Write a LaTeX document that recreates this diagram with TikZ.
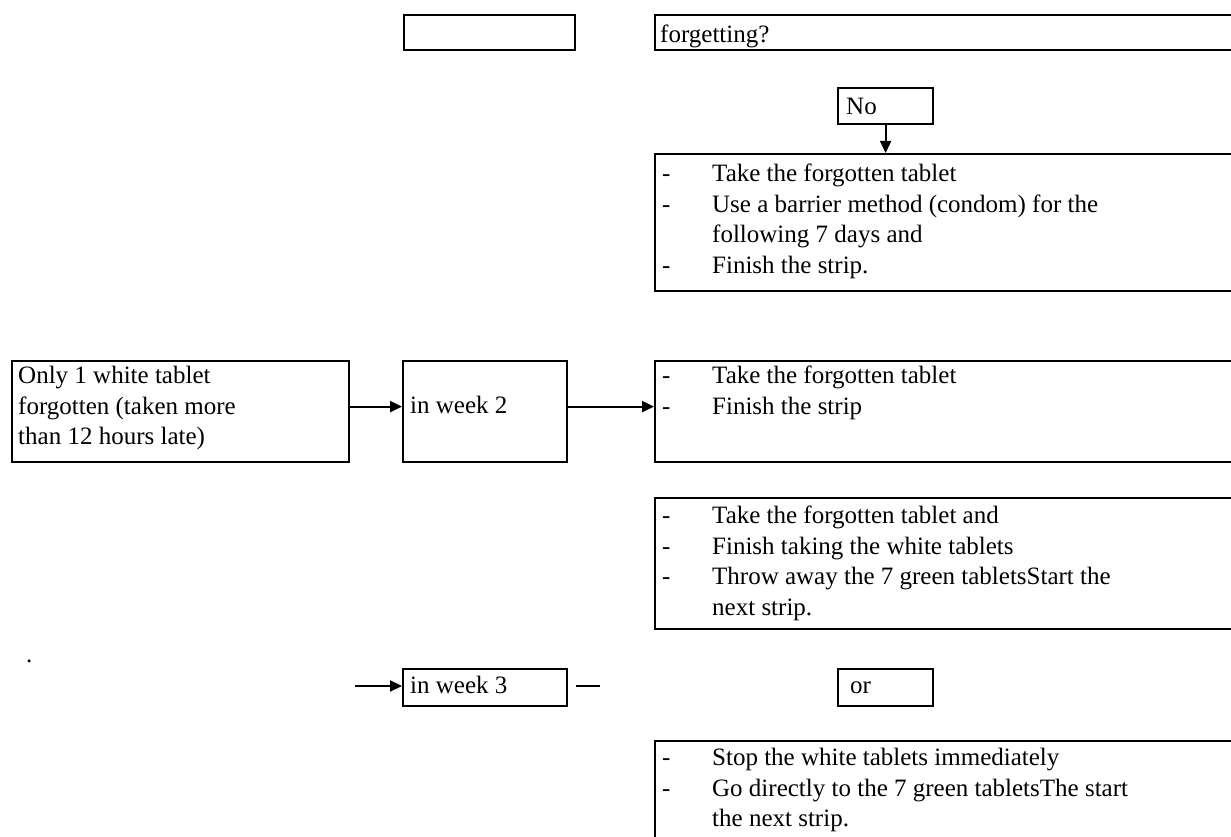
\documentclass[tikz,border=0pt]{standalone}
\usepackage{fontspec}
\setmainfont{Liberation Serif}
\usetikzlibrary{arrows.meta,calc}
\newcommand\fsz{\fontsize{25}{30.5}\selectfont}
\newcommand\itm[1]{\makebox[50pt][l]{-}#1}
\newcommand\cnt[1]{\hspace*{50pt}#1}
\begin{document}
\begin{tikzpicture}[x=1pt,y=-1pt,
  box/.style={draw, line width=2.2pt, inner sep=0pt, anchor=north west},
  txt/.style={anchor=north west, inner sep=0pt, align=left, font=\fsz},
  arr/.style={line width=2.2pt, -{Triangle[length=12pt,width=11pt]}},
  conn/.style={line width=2.2pt}]
\useasboundingbox (0,0) rectangle (1231,837);
\clip (0,0) rectangle (1231,837);
% boxes
\node[box, minimum width=171, minimum height=35] (top) at (403,14) {};
\node[box, minimum width=600, minimum height=35] (forget) at (654,14) {};
\node[box, minimum width=95, minimum height=36] (no) at (837,87) {};
\node[box, minimum width=600, minimum height=137] (A) at (654,153) {};
\node[box, minimum width=337, minimum height=101] (left) at (11,360) {};
\node[box, minimum width=164, minimum height=101] (wk2) at (402,360) {};
\node[box, minimum width=600, minimum height=101] (B) at (654,360) {};
\node[box, minimum width=600, minimum height=131] (C) at (654,497) {};
\node[box, minimum width=164, minimum height=37] (wk3) at (402,668) {};
\node[box, minimum width=95, minimum height=37] (or) at (837,668) {};
\node[box, minimum width=600, minimum height=130] (D) at (654,740) {};
% texts
\node[txt] (tforget) at (660,21) {\strut forgetting?};
\node[txt] (tno) at (846,93) {\strut No};
\node[txt] (tA) at (662,160) {\strut\itm{Take the forgotten tablet}\\
  \itm{Use a barrier method (condom) for the}\\
  \cnt{following 7 days and}\\
  \itm{Finish the strip.}};
\node[txt] (tleft) at (18,362) {\strut Only 1 white tablet\\forgotten (taken more\\than 12 hours late)};
\node[txt] (twk2) at (410,392) {\strut in week 2};
\node[txt] (tB) at (662,362) {\strut\itm{Take the forgotten tablet}\\
  \itm{Finish the strip}};
\node[txt] (tC) at (662,502) {\strut\itm{Take the forgotten tablet and}\\
  \itm{Finish taking the white tablets}\\
  \itm{Throw away the 7 green tabletsStart the}\\
  \cnt{next strip.}};
\node[txt] (tdot) at (26,641) {\strut .};
\node[txt] (twk3) at (410,672) {\strut in week 3};
\node[txt] (tor) at (850,672) {\strut or};
\node[txt] (tD) at (662,744) {\strut\itm{Stop the white tablets immediately}\\
  \itm{Go directly to the 7 green tabletsThe start}\\
  \cnt{the next strip.}};
% connectors
\draw[arr] (no.south) -- (no.south |- A.north);
\draw[arr] ($(left.east)+(0,-5)$) -- ($(wk2.west)+(0,-5)$);
\draw[arr] ($(wk2.east)+(0,-5)$) -- ($(B.west)+(0,-5)$);
\coordinate (in3) at (355,686);
\coordinate (out3) at (600,686);
\draw[arr] (in3) -- (in3 -| wk3.west);
\draw[conn] ($(wk3.east |- out3)+(8,0)$) -- (out3);
\end{tikzpicture}
\end{document}
